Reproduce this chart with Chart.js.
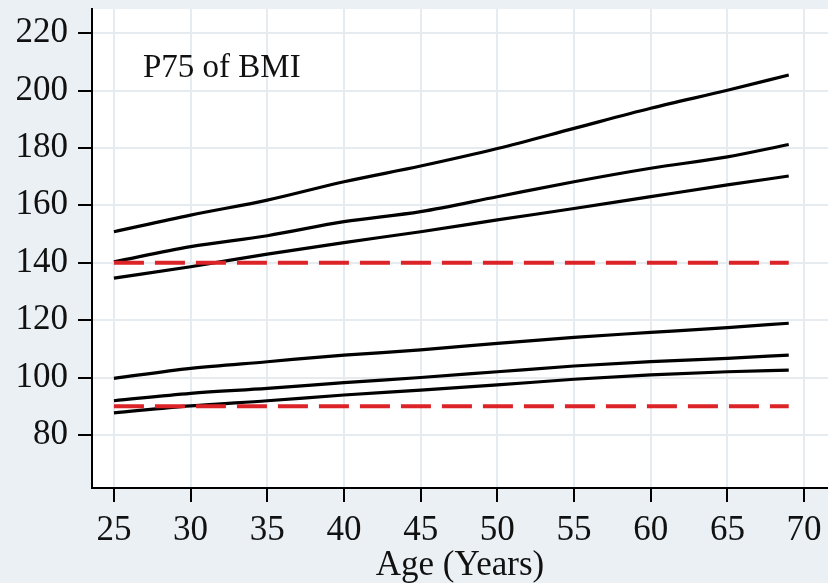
<!DOCTYPE html>
<html>
<head>
<meta charset="utf-8">
<title>P75 of BMI</title>
<script src="https://cdn.jsdelivr.net/npm/chart.js@4.4.1/dist/chart.umd.min.js"></script>
<style>
  html, body { margin: 0; padding: 0; background: #eaf0f4; }
  #wrap { width: 828px; height: 583px; }
</style>
</head>
<body>
<div id="wrap"><canvas id="chart" width="828" height="583"></canvas></div>
<script>
/* ── Data ── */
const ages = [25, 30, 35, 40, 45, 50, 55, 60, 65, 69];

const upperTop = [150.8, 156.6, 161.8, 168.2, 173.7, 179.8, 186.8, 193.8, 200.1, 205.4];
const upperMid = [140.3, 145.6, 149.4, 154.3, 157.8, 163.0, 168.2, 172.9, 176.9, 181.2];
const upperLow = [134.6, 138.6, 143.0, 147.0, 150.8, 154.9, 158.9, 163.0, 167.1, 170.2];

const lowerTop = [99.7, 103.2, 105.5, 107.8, 109.6, 111.9, 114.0, 115.7, 117.4, 118.9];
const lowerMid = [91.9, 94.5, 96.2, 98.2, 100.0, 102.0, 104.0, 105.5, 106.7, 107.8];
const lowerLow = [87.7, 90.1, 91.9, 93.9, 95.6, 97.4, 99.4, 100.9, 102.0, 102.6];

const refAges = [25, 69];
const refHigh = [140, 140];
const refLow  = [90, 90];

const panelLabel = 'P75 of BMI';
const xTitle = 'Age (Years)';

/* ── Style ── */
const FONT = "'Liberation Serif', 'DejaVu Serif', serif";
const BG = '#eaf0f4';
const GRID = '#e5ebef';
const RED = '#dc2327';

const toPts = (xs, ys) => xs.map((x, i) => ({ x, y: ys[i] }));

function blackLine(ys) {
  return {
    data: toPts(ages, ys),
    borderColor: '#000', borderWidth: 3.2,
    pointRadius: 0, cubicInterpolationMode: 'monotone', fill: false,
  };
}

function redDash(ys) {
  return {
    data: toPts(refAges, ys),
    borderColor: RED, borderWidth: 4, borderDash: [30, 11],
    pointRadius: 0, tension: 0, fill: false,
  };
}

/* ── Plugins: backgrounds + panel label ── */
const backdrop = {
  id: 'backdrop',
  beforeDraw(chart) {
    const { ctx, chartArea: a } = chart;
    ctx.save();
    ctx.fillStyle = BG;
    ctx.fillRect(0, 0, chart.width, chart.height);
    ctx.fillStyle = '#fff';
    ctx.fillRect(a.left, a.top, a.right - a.left, a.bottom - a.top);
    ctx.restore();
  }
};

const label = {
  id: 'label',
  afterDraw(chart) {
    const { ctx, chartArea: a } = chart;
    ctx.save();
    ctx.fillStyle = '#111';
    ctx.font = `33px ${FONT}`;
    ctx.textBaseline = 'alphabetic';
    ctx.fillText(panelLabel, a.left + 51, a.top + 68);
    ctx.restore();
  }
};

new Chart(document.getElementById('chart'), {
  type: 'line',
  data: {
    datasets: [
      redDash(refHigh), redDash(refLow),
      blackLine(upperTop), blackLine(upperMid), blackLine(upperLow),
      blackLine(lowerTop), blackLine(lowerMid), blackLine(lowerLow),
    ]
  },
  options: {
    responsive: false, animation: false, devicePixelRatio: 1,
    layout: { padding: { top: 9, right: 0, left: 0, bottom: 0 } },
    plugins: { legend: { display: false }, tooltip: { enabled: false } },
    scales: {
      x: {
        type: 'linear', min: 23.57, max: 71.56,
        afterFit(s) { s.height = 95; s.paddingLeft = 0; s.paddingRight = 0; },
        border: { color: '#000', width: 2 },
        grid: { color: GRID, lineWidth: 2, tickColor: '#000', tickWidth: 2, tickLength: 14 },
        ticks: { stepSize: 5, includeBounds: false, color: '#111', padding: 8,
                 maxRotation: 0, autoSkip: false, font: { family: FONT, size: 35 } },
        title: { display: true, text: xTitle, color: '#111',
                 padding: { top: 0, bottom: 0 }, font: { family: FONT, size: 35, lineHeight: 1 } }
      },
      y: {
        type: 'linear', min: 61.5, max: 228.4,
        afterFit(s) { s.width = 92; s.paddingTop = 0; s.paddingBottom = 0; },
        border: { color: '#000', width: 2 },
        grid: { color: GRID, lineWidth: 2, tickColor: '#000', tickWidth: 2, tickLength: 14 },
        ticks: { stepSize: 20, includeBounds: false, color: '#111', padding: 10,
                 font: { family: FONT, size: 35 } }
      }
    }
  },
  plugins: [backdrop, label]
});
</script>
</body>
</html>
